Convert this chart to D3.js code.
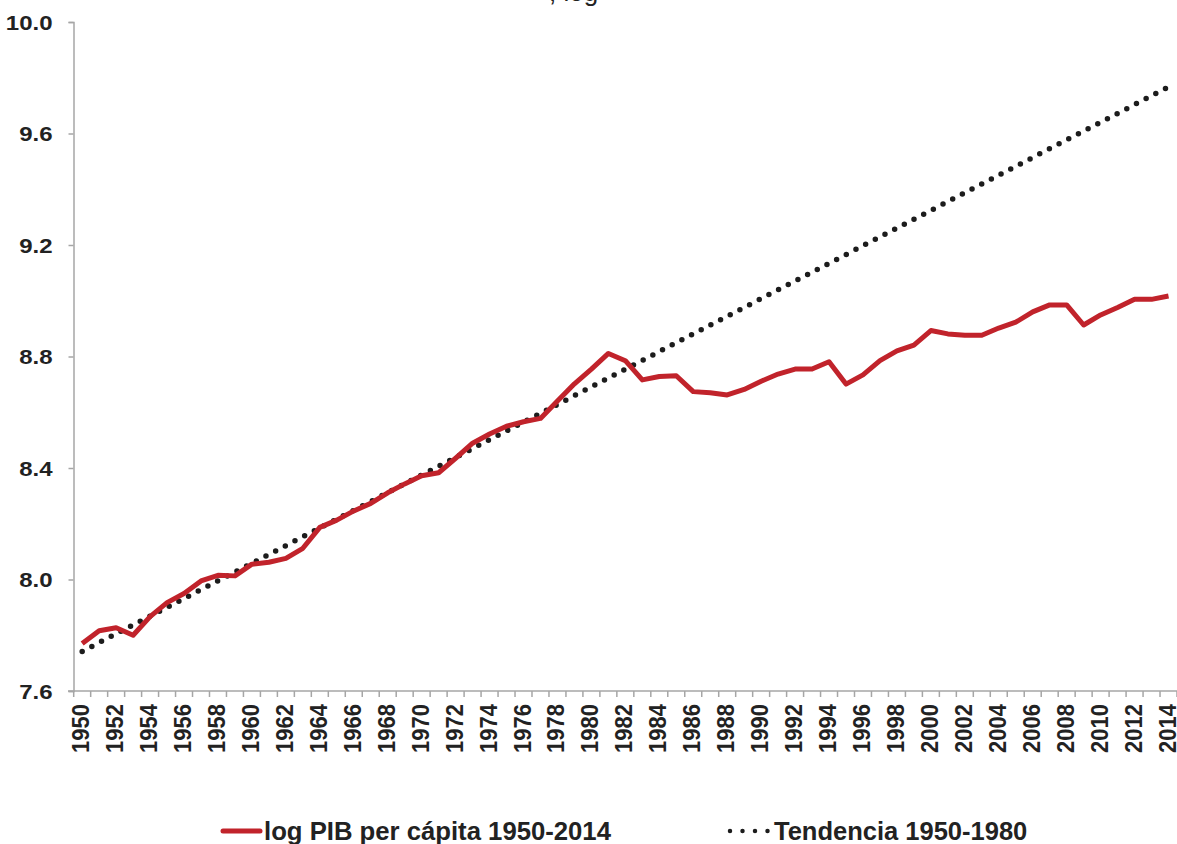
<!DOCTYPE html>
<html>
<head>
<meta charset="utf-8">
<script src="https://cdn.jsdelivr.net/npm/d3@7"></script>
<style>
  body { margin: 0; background: #fff; }
  svg { display: block; }
  text { font-family: "Liberation Sans", Arial, sans-serif; }
</style>
</head>
<body>
<script>
// categories (years)
const years = d3.range(1950, 2015);

// log PIB per capita 1950-2014
const logPib = [
  7.770, 7.816, 7.827, 7.800, 7.867, 7.917, 7.950, 7.995, 8.015, 8.013,
  8.055, 8.062, 8.076, 8.112, 8.187, 8.213, 8.246, 8.273, 8.311, 8.343,
  8.372, 8.383, 8.435, 8.489, 8.522, 8.550, 8.566, 8.578, 8.640, 8.702,
  8.755, 8.811, 8.785, 8.716, 8.728, 8.731, 8.674, 8.670, 8.662, 8.682,
  8.711, 8.737, 8.755, 8.755, 8.781, 8.701, 8.734, 8.785, 8.820, 8.841,
  8.893, 8.881, 8.876, 8.876, 8.902, 8.923, 8.960, 8.985, 8.985, 8.913,
  8.949, 8.976, 9.005, 9.005, 9.017
];

// trend 1950-1980, drawn as a straight line between its two ends
const trendYears = [1950, 2014];
const trendValues = [7.742, 9.767];

const yTicks = [7.6, 8.0, 8.4, 8.8, 9.2, 9.6, 10.0];
const xLabelYears = years.filter(function(y){ return y % 2 == 0; });

const legendLabels = ["log PIB per cápita 1950-2014", "Tendencia 1950-1980"];

const width = 1177, height = 844;
const axisColor = "#a6a6a6";
const red = "#c1232b";

let svg = d3.select("body").append("svg")
    .attr("width", width)
    .attr("height", height);

// scales
let x = d3.scaleBand().domain(years).range([73.7, 1177]);
let y = d3.scaleLinear().domain([7.6, 10.0]).range([691, 22]);

function cx(year){
  return x(year) + x.bandwidth() / 2;
}

// clipped title at the very top
svg.append("text")
    .attr("x", 549)
    .attr("y", 1)
    .attr("font-size", 26)
    .attr("fill", "#222")
    .text(", log");

// y axis
let yAxis = svg.append("g")
    .attr("transform", "translate(73.5,0)")
    .call(d3.axisLeft(y).tickValues(yTicks).tickSize(5).tickFormat(d3.format(".1f")));
yAxis.select(".domain").attr("stroke", axisColor).attr("stroke-width", 1.5);
yAxis.selectAll(".tick line").attr("stroke", axisColor).attr("stroke-width", 1.5);
yAxis.selectAll(".tick text")
    .attr("font-size", 20)
    .attr("font-weight", "bold")
    .attr("fill", "#222")
    .attr("x", 0)
    .attr("dy", "0.36em")
    .attr("transform", "translate(-21,0) scale(1.2,1)");

// x axis: ticks on every band boundary
let xAxisG = svg.append("g").attr("transform", "translate(0,691)");
xAxisG.append("line")
    .attr("x1", 68).attr("x2", 1177)
    .attr("stroke", axisColor).attr("stroke-width", 1.5);
xAxisG.selectAll(".xtick").data(years.concat([2015]))
  .enter()
    .append("line")
    .attr("class", "xtick")
    .attr("x1", function(d, i){ return 73.7 + i * x.step(); })
    .attr("x2", function(d, i){ return 73.7 + i * x.step(); })
    .attr("y1", 0).attr("y2", 6)
    .attr("stroke", axisColor).attr("stroke-width", 1.5);

xAxisG.selectAll(".xlabel").data(xLabelYears)
  .enter()
    .append("text")
    .attr("class", "xlabel")
    .attr("transform", function(d){ return "translate(" + (cx(d) + 7) + ",13) scale(1.08,1) rotate(-90)"; })
    .attr("text-anchor", "end")
    .attr("font-size", 22)
    .attr("font-weight", "bold")
    .attr("fill", "#222")
    .text(function(d){ return d; });

// trend line (dotted)
let trendLine = d3.line()
    .x(function(d){ return cx(d[0]); })
    .y(function(d){ return y(d[1]); });

svg.append("path")
    .datum(d3.zip(trendYears, trendValues))
    .attr("d", trendLine)
    .attr("fill", "none")
    .attr("stroke", "#1c1c1c")
    .attr("stroke-width", 5.5)
    .attr("stroke-linecap", "round")
    .attr("stroke-dasharray", "0,10.9");

// log PIB line
let pibLine = d3.line()
    .x(function(d, i){ return cx(years[i]); })
    .y(function(d){ return y(d); });

svg.append("path")
    .datum(logPib)
    .attr("d", pibLine)
    .attr("fill", "none")
    .attr("stroke", red)
    .attr("stroke-width", 5)
    .attr("stroke-linejoin", "round");

// legend
let legend = svg.append("g").attr("transform", "translate(0,831)");

legend.append("line")
    .attr("x1", 223).attr("x2", 260)
    .attr("stroke", red).attr("stroke-width", 5)
    .attr("stroke-linecap", "round");
legend.append("text")
    .attr("x", 264).attr("y", 9)
    .attr("font-size", 25.7).attr("font-weight", "bold").attr("fill", "#222")
    .text(legendLabels[0]);

legend.append("line")
    .attr("x1", 730).attr("x2", 768)
    .attr("stroke", "#1c1c1c").attr("stroke-width", 4.5)
    .attr("stroke-linecap", "round")
    .attr("stroke-dasharray", "0,12.5");
legend.append("text")
    .attr("x", 774).attr("y", 9)
    .attr("font-size", 25.5).attr("font-weight", "bold").attr("fill", "#222")
    .text(legendLabels[1]);
</script>
</body>
</html>
